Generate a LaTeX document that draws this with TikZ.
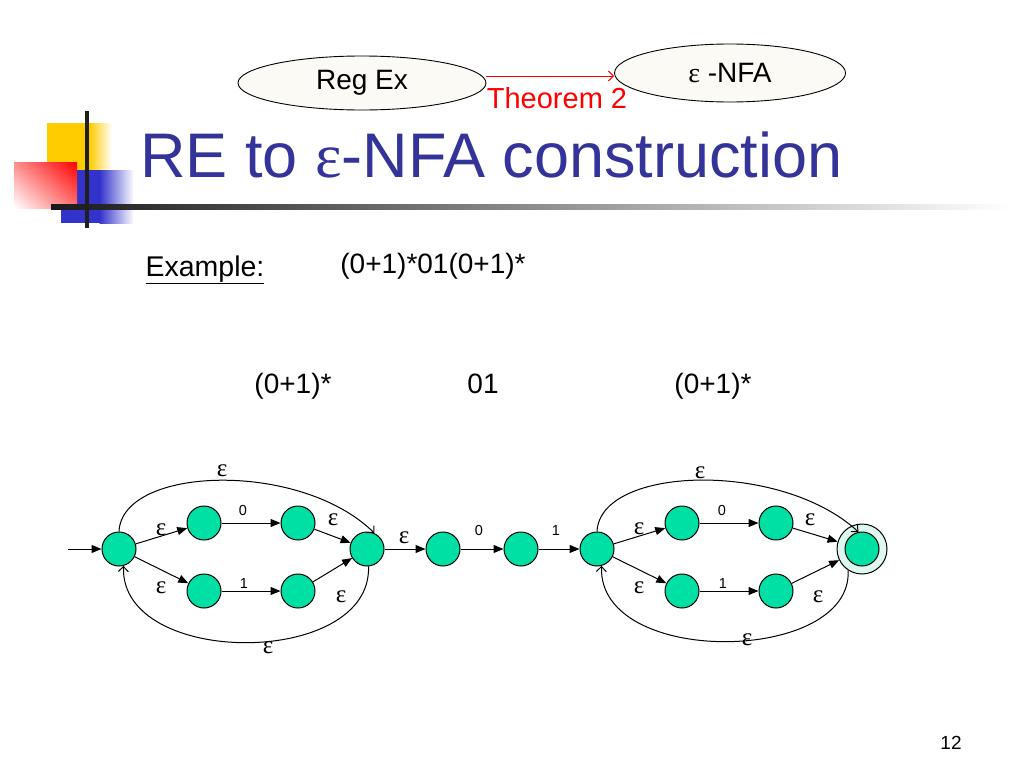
\documentclass[tikz,border=0pt]{standalone}
\usepackage{fontspec}
\setmainfont{Liberation Sans}
\newfontfamily\serf{Liberation Serif}
\usetikzlibrary{arrows.meta,calc,shapes.geometric,shadings}
\definecolor{stgreen}{RGB}{0,224,164}
\definecolor{ttl}{RGB}{51,51,153}
\definecolor{cream}{RGB}{252,250,245}
\definecolor{ringc}{RGB}{222,247,240}
\definecolor{lyel}{RGB}{255,204,0}
\definecolor{lblu}{RGB}{51,51,204}
\newcommand\myeps{{\serf ε}}
\begin{document}
\begin{tikzpicture}[x=1pt,y=-1pt,
  st/.style={circle, draw, fill=stgreen, minimum size=34pt, inner sep=0pt, line width=1pt},
  lab/.style={font=\fontsize{25}{25}\selectfont\serf, inner sep=0pt},
  dig/.style={font=\fontsize{14.5}{14.5}\selectfont, inner sep=0pt},
  txt/.style={font=\fontsize{28}{28}\selectfont, inner sep=0pt},
  tr/.style={line width=1pt, -{Triangle[length=10pt,width=8pt]}},
  lp/.style={line width=1pt, -{Straight Barb[length=5pt,width=10pt]}},
  ell/.style={ellipse, draw, fill=cream, line width=0.9pt, font=\fontsize{28}{28}\selectfont}]
\useasboundingbox (0,0) rectangle (1024,768);
\fill[white] (0,0) rectangle (1024,768);

% logo
\fill[lyel] (47,123) rectangle (90,170);
\shade[left color=lyel, right color=white] (89.5,123) rectangle (112,170);
\fill[lblu] (61,170) rectangle (100,223);
\shade[left color=lblu, right color=white] (99.5,170) rectangle (134,223);
\shade[upper right=red, upper left=red!45, lower right=red!55, lower left=white] (14,162) rectangle (77,208);
\shade[left color=black!90, middle color=black!30, right color=white] (51,204.5) rectangle (1010,209.5);
\fill[black!88] (85,111) rectangle (89,228);

% top ellipses
\node[ell, minimum width=248pt, minimum height=54pt] (re) at (362,83) {Reg Ex};
\node[ell, minimum width=231pt, minimum height=58pt] (nfa) at (730,73) {\myeps{} -NFA};
\draw[red, line width=1pt, -{Straight Barb[length=5pt,width=10pt]}] (re.east |- 0,76) -- (nfa.west |- 0,76);
\node[text=red, inner sep=0pt, font=\fontsize{29}{29}\selectfont] (thm) at (557,98) {Theorem 2};

% title
\node[anchor=base west, inner sep=0pt, text=ttl, font=\fontsize{63}{63}\selectfont] (title) at (140,177) {RE to {\serf ε}-NFA construction};

\node[txt, anchor=base, font=\fontsize{28.5}{28.5}\selectfont] (ex) at (205,276) {\underline{Example:}};
\node[txt, anchor=base] (re1) at (433,273) {(0+1)*01(0+1)*};
\node[txt, anchor=base] (p1) at (293,393) {(0+1)*};
\node[txt, anchor=base] (p2) at (483,393) {01};
\node[txt, anchor=base] (p3) at (713,393) {(0+1)*};
\node[font=\fontsize{19}{19}\selectfont, inner sep=0pt] (pg) at (951,743) {12};

% states
\node[st] (A) at (119,549) {};
\node[st] (U1) at (204,523) {};
\node[st] (U2) at (298,523) {};
\node[st] (L1) at (204,591) {};
\node[st] (L2) at (298,591) {};
\node[st] (B) at (367,549) {};
\node[st] (M1) at (443,549) {};
\node[st] (M2) at (521,549) {};
\node[st] (C) at (597,549) {};
\node[st] (V1) at (682,523) {};
\node[st] (V2) at (776,523) {};
\node[st] (W1) at (682,591) {};
\node[st] (W2) at (776,591) {};
\node[circle, draw, fill=ringc, minimum size=50pt, inner sep=0pt, line width=1pt] (F) at (862,549) {};
\node[st] (Fi) at (862,549) {};
\coordinate (in) at (68,549);

% edges
\draw[tr] (in) -- (A);
\draw[tr] (A) -- (U1);
\draw[tr] (A) -- (L1);
\draw[tr] (U1) -- (U2);
\draw[tr] (L1) -- (L2);
\draw[tr] (U2) -- (B);
\draw[tr] (L2) -- (B);
\draw[tr] (B) -- (M1);
\draw[tr] (M1) -- (M2);
\draw[tr] (M2) -- (C);
\draw[tr] (C) -- (V1);
\draw[tr] (C) -- (W1);
\draw[tr] (V1) -- (V2);
\draw[tr] (W1) -- (W2);
\draw[tr] (V2) -- (F);
\draw[tr] (W2) -- (F);
\draw[lp] (A.north) .. controls (122,466) and (300,460) .. (B.65);
\draw[lp] (B.-85) .. controls (372,668) and (120,668) .. (A.-75);
\draw[lp] (C.north) .. controls (600,466) and (780,460) .. (Fi.102);
\draw[lp] (F.-123) .. controls (853,664) and (598,668) .. (C.-75);

% labels
\node[lab] (e1) at (222,471) {ε};
\node[lab] (e2) at (161,530) {ε};
\node[lab] (e3) at (161,588) {ε};
\node[dig] (d1) at (243,511) {0};
\node[dig] (d2) at (244,584) {1};
\node[lab] (e4) at (333,520) {ε};
\node[lab] (e5) at (341,597) {ε};
\node[lab] (e6) at (268,648) {ε};
\node[lab] (e7) at (404,538) {ε};
\node[dig] (d3) at (479,531) {0};
\node[dig] (d4) at (556,531) {1};
\node[lab] (e8) at (700,473) {ε};
\node[lab] (e9) at (639,529) {ε};
\node[lab] (e10) at (639,588) {ε};
\node[dig] (d5) at (722,511) {0};
\node[dig] (d6) at (723,584) {1};
\node[lab] (e11) at (810,520) {ε};
\node[lab] (e12) at (818,597) {ε};
\node[lab] (e13) at (747,640) {ε};
\end{tikzpicture}
\end{document}
